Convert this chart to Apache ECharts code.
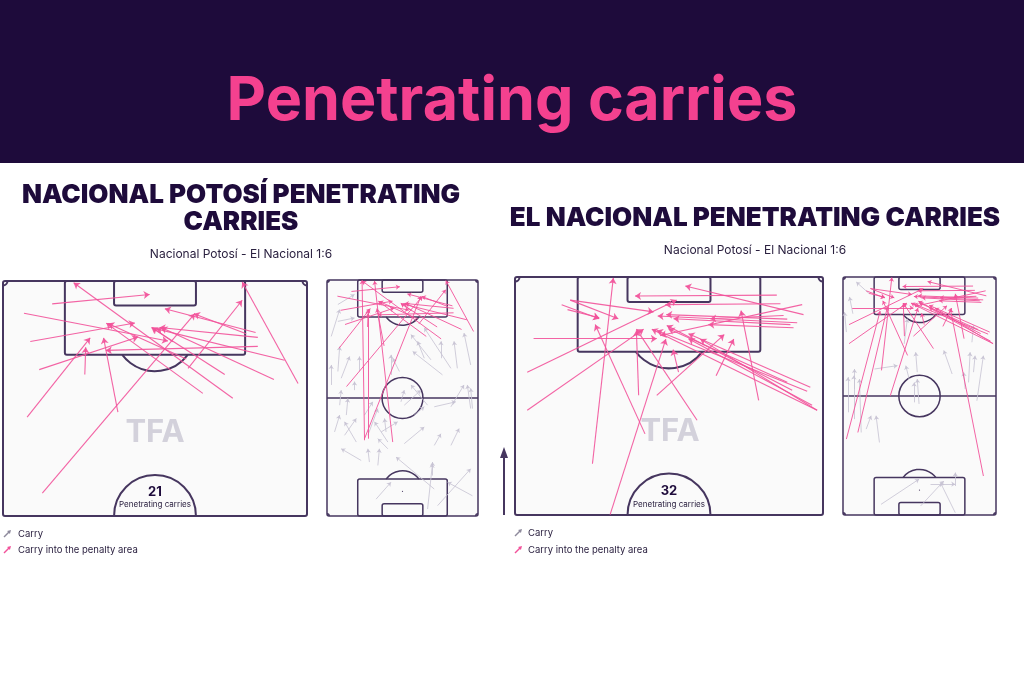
<!DOCTYPE html>
<html><head><meta charset="utf-8">
<script src="https://cdn.jsdelivr.net/npm/echarts@6/dist/echarts.min.js"></script>
<style>html,body{margin:0;padding:0;background:#fff}#c{width:1024px;height:683px}</style>
</head><body><div id="c"></div>
<script>
// Pitch coordinates in metres: x across (0..68), y along (0..105), attacking upward.
// Each carry: [startX, startY, endX, endY]
const homePenCarries = [
  [11.0,99.9,32.8,102.0],[51.4,78.8,15.8,104.6],[4.7,97.8,36.9,91.6],[6.1,91.5,29.5,95.6],
  [8.1,85.2,30.2,92.5],[5.4,74.6,19.5,92.3],[18.3,84.1,18.5,90.2],[25.7,75.7,22.5,92.3],
  [8.8,57.6,42.9,97.7],[44.7,79.9,23.1,95.6],[49.6,84.1,33.2,94.6],[60.6,83.0,35.4,94.6],
  [66.0,82.1,53.5,104.8],[56.5,93.5,36.2,98.8],[57.0,92.4,35.0,94.6],[57.0,90.4,23.0,89.5],
  [63.0,87.3,34.3,94.3],[41.4,85.5,53.5,100.7],[54.4,93.2,42.7,97.7],[38.0,91.4,33.4,94.6],
  [41.0,87.6,23.5,95.5]
];
const homePenFromOwnHalf = [
  [16.9,33.7,15.8,104.9],[18.4,34.4,18.4,91.9],[29.6,32.9,21.4,104.6],[16.9,34.4,42.3,97.8]
];
const homeCarries = [
  [4.9,94.1,12.4,98.6],[1.9,79.9,5.7,91.9],[4.9,64.3,5.7,75.4],[1.9,58.3,1.9,67.2],
  [6.4,61.3,10.2,71.0],[14.6,64.3,14.6,71.0],[5.7,49.3,6.4,56.0],[8.7,44.9,9.4,52.3],
  [12.4,56.0,12.4,59.8],[28.8,62.8,28.8,71.7],[52.0,62.8,38.6,73.2],[32.6,64.3,29.6,70.2],
  [45.3,49.3,37.8,58.3],[34.8,49.3,42.3,56.0],[48.3,48.6,58.0,50.8],[55.8,48.6,61.7,58.3],
  [64.7,47.8,63.2,58.3],[58.7,65.7,57.2,77.7],[51.3,70.2,51.3,77.7],[55.8,65.7,43.8,83.7],
  [46.8,69.5,37.8,80.7],[64.7,67.2,61.7,81.4],[7.9,35.9,13.2,43.4],[3.4,37.4,5.7,44.9],
  [15.4,24.7,6.4,29.9],[18.4,35.9,22.9,47.8],[24.4,37.4,31.8,41.9],[27.4,29.9,22.9,34.4],
  [34.8,32.2,43.8,39.6],[48.3,31.4,51.3,36.6],[55.8,31.4,59.5,38.9],[22.9,22.5,23.6,29.9],
  [48.3,12.0,31.1,26.2],[47.5,18.0,47.5,24.0],[22.1,7.5,28.8,15.0],[45.3,3.1,47.5,23.2],
  [49.8,4.6,64.7,21.0],[65.5,9.0,54.3,15.0],[19.1,24.0,18.4,29.9],[16.9,44.9,20.6,50.8],
  [26.6,37.4,25.9,43.4],[27.4,32.9,21.4,41.9],[13.2,32.9,7.9,41.9],[39.3,44.9,43.8,48.6],
  [65.5,47.8,64.7,56.8],[33.3,50.8,34.8,56.0],[43.8,70.2,40.8,77.7],[4.9,86.6,12.4,88.1]
];
const awayPenCarries = [
  [17.1,63.8,21.7,104.8],[21.0,52.6,33.3,91.3],[40.2,73.4,26.8,93.5],[28.7,70.4,17.7,94.5],
  [27.3,78.9,26.8,93.2],[36.1,84.0,34.9,89.0],[31.3,78.9,46.2,92.3],[44.4,83.2,48.3,91.3],
  [53.8,77.8,49.9,97.6],[2.7,84.0,35.7,99.9],[2.7,75.6,28.4,93.5],[4.1,91.4,31.3,91.4],
  [12.2,99.9,22.8,95.8],[11.6,97.8,18.6,96.0],[57.8,101.0,26.5,100.8],[63.7,96.7,37.6,103.0],
  [63.4,98.9,32.1,92.1],[60.1,95.7,33.4,96.7],[60.8,94.5,35.0,95.8],[62.3,94.9,31.5,96.4],
  [61.5,93.8,42.7,94.5],[65.2,80.7,38.3,92.5],[66.7,75.6,40.9,91.3],[64.5,79.8,31.3,93.2],
  [66.7,75.6,30.2,93.5],[61.2,80.0,33.5,94.3],[65.6,76.7,38.3,91.4],[12.2,99.9,30.6,97.3],
  [58.6,99.1,33.2,98.9],[59.3,96.5,43.1,95.8],[60.1,81.8,33.9,93.6],[10.3,98.9,18.6,95.8]
];
const awayPenFromOwnHalf = [
  [1.5,33.5,16.5,90.0],[6.6,36.4,19.8,92.0],[62.4,17.2,47.7,91.0]
];
const awayCarries = [
  [11.7,97.6,5.9,102.8],[4.4,88.8,2.9,96.2],[1.5,80.7,0.7,89.5],[5.1,55.6,5.1,64.4],
  [2.2,45.3,2.2,60.8],[4.8,42.3,4.8,61.5],[8.1,36.4,7.3,60.0],[10.3,37.9,12.5,43.8],
  [16.2,32.0,14.7,43.8],[14.0,64.4,24.2,65.9],[33.0,63.0,32.3,71.8],[31.6,49.7,31.6,58.5],
  [33.8,49.0,33.0,60.0],[29.4,60.0,27.9,65.9],[48.5,62.2,44.8,72.6],[55.8,58.5,56.5,71.8],
  [58.0,63.0,58.7,70.3],[59.5,50.4,62.4,70.3],[54.3,55.6,53.6,63.0],[49.9,12.8,49.9,18.7],
  [16.9,4.7,33.8,15.8],[38.9,13.6,49.9,13.6],[34.5,4.0,44.8,15.0],[49.9,1.0,43.3,14.3],
  [57.3,76.2,58.0,83.6],[27.2,75.5,28.6,86.6]
];
const mainTitle = 'Penetrating carries';
const panelTitles = [['NACIONAL POTOSÍ PENETRATING', 'CARRIES'], ['EL NACIONAL PENETRATING CARRIES']];
const matchLabel = 'Nacional Potosí - El Nacional 1:6';
const penCounts = [21, 32];
const countLabel = 'Penetrating carries';
const legendLabels = ['Carry', 'Carry into the penalty area'];

const W = 68, L = 105, PA_W = 40.32, PA_D = 16.5, GA_W = 18.32, GA_D = 5.5, R = 9.15, PS = 11, CR = 1;
const LINE = '#46365f', PITCH_FILL = '#fafafa', PINK = '#f2529a', GREY = '#c6c2d3', NAVY = '#1e0b3b';

const grids = [
  {left: 3, top: 281, width: 304, height: 235, half: true},
  {left: 327, top: 280, width: 151, height: 236, half: false},
  {left: 515, top: 277, width: 308, height: 238, half: true},
  {left: 843, top: 277, width: 153, height: 238, half: false}
];

function pitchSeries(gi, half, lw) {
  return {
    type: 'custom', xAxisIndex: gi, yAxisIndex: gi, silent: true, z: 1, clip: false,
    data: [[W / 2, L / 2]],
    renderItem: function (params, api) {
      const P = (x, y) => api.coord([x, y]);
      const ux = api.size([1, 0])[0], uy = api.size([0, 1])[1];
      const ur = (ux + uy) / 2;
      const st = () => ({fill: 'none', stroke: LINE, lineWidth: lw});
      const els = [];
      const box = (x0, y0, x1, y1, fill, r) => {
        const a = P(x0, y1), b = P(x1, y0);
        const s = st(); if (fill) s.fill = fill;
        els.push({type: 'rect', shape: {x: a[0], y: a[1], width: b[0] - a[0], height: b[1] - a[1], r: r || 0}, style: s});
      };
      const arc = (cx, cy, r, s, e) => {
        const c = P(cx, cy);
        els.push({type: 'arc', shape: {cx: c[0], cy: c[1], r: r * ur, startAngle: s, endAngle: e, clockwise: true}, style: st()});
      };
      const dot = (cx, cy, r) => {
        const c = P(cx, cy);
        els.push({type: 'circle', shape: {cx: c[0], cy: c[1], r: r}, style: {fill: LINE}});
      };
      const a = Math.acos((PA_D - PS) / R);
      box(0, half ? L / 2 : 0, W, L, PITCH_FILL, 2);
      box((W - PA_W) / 2, L - PA_D, (W + PA_W) / 2, L, null, 2);
      box((W - GA_W) / 2, L - GA_D, (W + GA_W) / 2, L, null, 2);
      arc(W / 2, L - PS, R, Math.PI / 2 - a, Math.PI / 2 + a);
      dot(W / 2, L - PS, half ? 0.9 : 0.6);
      arc(0, L, CR, 0, Math.PI / 2);
      arc(W, L, CR, Math.PI / 2, Math.PI);
      if (half) {
        arc(W / 2, L / 2, R, Math.PI, 2 * Math.PI);
      } else {
        const h0 = P(0, L / 2), h1 = P(W, L / 2);
        els.push({type: 'line', shape: {x1: h0[0], y1: h0[1], x2: h1[0], y2: h1[1]}, style: st()});
        const c = P(W / 2, L / 2);
        els.push({type: 'circle', shape: {cx: c[0], cy: c[1], r: R * ur}, style: st()});
        dot(W / 2, L / 2, 0.6);
        box((W - PA_W) / 2, 0, (W + PA_W) / 2, PA_D, null, 2);
        box((W - GA_W) / 2, 0, (W + GA_W) / 2, GA_D, null, 2);
        arc(W / 2, PS, R, -Math.PI / 2 - a, -Math.PI / 2 + a);
        dot(W / 2, PS, 0.6);
        arc(0, 0, CR, -Math.PI / 2, 0);
        arc(W, 0, CR, Math.PI, 1.5 * Math.PI);
      }
      return {type: 'group', children: els};
    }
  };
}

function carrySeries(gi, arr, color, width, size, z, opacity) {
  return {
    type: 'lines', coordinateSystem: 'cartesian2d', xAxisIndex: gi, yAxisIndex: gi, z: z, silent: true,
    symbol: ['none', 'arrow'], symbolSize: size,
    lineStyle: {color: color, width: width, opacity: opacity, curveness: 0},
    data: arr.map(d => ({coords: [[d[0], d[1]], [d[2], d[3]]]}))
  };
}

function legendIcon(x, y, color) {
  return {type: 'group', z: 20, children: [
    {type: 'line', shape: {x1: x, y1: y + 6, x2: x + 5.5, y2: y + 0.5}, style: {stroke: color, lineWidth: 1.4}},
    {type: 'polygon', shape: {points: [[x + 7, y - 1], [x + 5.9, y + 2.9], [x + 3.1, y + 0.1]]}, style: {fill: color}}
  ]};
}

const txt = (x, y, text, font, fill, align, z) => ({type: 'text', x: x, y: y, z: z || 20, style: {text: text, font: font, fill: fill, textAlign: align || 'center', textVerticalAlign: 'middle'}});

const graphics = [
  {type: 'rect', z: 0, shape: {x: 0, y: 0, width: 1024, height: 163}, style: {fill: NAVY}},
  txt(512, 102, mainTitle, 'bold 61px Inter', '#f4418f'),
  txt(241, 195, panelTitles[0][0], '900 26px Inter', NAVY),
  txt(241, 222, panelTitles[0][1], '900 26px Inter', NAVY),
  txt(241, 254, matchLabel, '12px Inter', '#2b2140'),
  txt(755, 218, panelTitles[1][0], '900 26px Inter', NAVY),
  txt(755, 250, matchLabel, '12px Inter', '#2b2140'),
  txt(155, 433, 'TFA', 'bold 31px Inter', '#d3d1db', 'center', 2),
  txt(670, 432, 'TFA', 'bold 31px Inter', '#d3d1db', 'center', 2),
  txt(155, 492, String(penCounts[0]), 'bold 13px Inter', NAVY),
  txt(155, 505, countLabel, '8px Inter', '#2b2140'),
  txt(669, 491, String(penCounts[1]), 'bold 13px Inter', NAVY),
  txt(669, 505, countLabel, '8px Inter', '#2b2140'),
  {type: 'line', z: 20, shape: {x1: 504, y1: 515, x2: 504, y2: 455}, style: {stroke: LINE, lineWidth: 2}},
  {type: 'polygon', z: 20, shape: {points: [[500, 458], [504, 447], [508, 458]]}, style: {fill: LINE}},
  legendIcon(4, 531, '#8e8a9c'), legendIcon(4, 547, PINK),
  txt(18, 534, legendLabels[0], '9.5px Inter', '#2b2140', 'left'),
  txt(18, 550, legendLabels[1], '9.5px Inter', '#2b2140', 'left'),
  legendIcon(515, 530, '#8e8a9c'), legendIcon(515, 547, PINK),
  txt(528, 533, legendLabels[0], '9.5px Inter', '#2b2140', 'left'),
  txt(528, 550, legendLabels[1], '9.5px Inter', '#2b2140', 'left')
];

const chart = echarts.init(document.getElementById('c'), null, {renderer: 'canvas'});
chart.setOption({
  animation: false,
  backgroundColor: '#ffffff',
  grid: grids.map(g => ({left: g.left, top: g.top, width: g.width, height: g.height, containLabel: false})),
  xAxis: grids.map((g, i) => ({type: 'value', gridIndex: i, min: 0, max: W, show: false})),
  yAxis: grids.map((g, i) => ({type: 'value', gridIndex: i, min: g.half ? L / 2 : 0, max: L, show: false})),
  series: [
    pitchSeries(0, true, 2), pitchSeries(1, false, 1.5), pitchSeries(2, true, 2), pitchSeries(3, false, 1.5),
    carrySeries(0, homePenCarries, PINK, 1.1, 6, 5, 0.9),
    carrySeries(1, homeCarries, GREY, 0.9, 4, 3, 0.9),
    carrySeries(1, homePenCarries.concat(homePenFromOwnHalf), PINK, 1, 4, 4, 0.9),
    carrySeries(2, awayPenCarries, PINK, 1.1, 6, 5, 0.9),
    carrySeries(3, awayCarries, GREY, 0.9, 4, 3, 0.9),
    carrySeries(3, awayPenCarries.concat(awayPenFromOwnHalf), PINK, 1, 4, 4, 0.9)
  ],
  graphic: {elements: graphics}
});
</script></body></html>
